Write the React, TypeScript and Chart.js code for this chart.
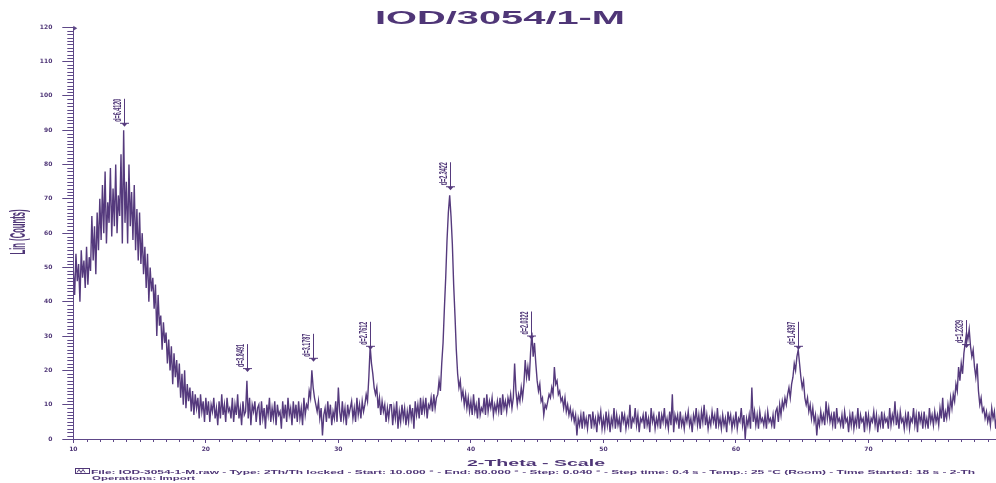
import { useEffect, useRef } from 'react';
import { Chart, registerables } from 'chart.js';

Chart.register(...registerables);

const TITLE = 'IOD/3054/1-M';
const X_TITLE = '2-Theta - Scale';
const Y_TITLE = 'Lin (Counts)';
const FOOTER_1 =
  'File: IOD-3054-1-M.raw - Type: 2Th/Th locked - Start: 10.000 ° - End: 80.000 ° - Step: 0.040 ° - Step time: 0.4 s - Temp.: 25 °C (Room) - Time Started: 18 s - 2-Th';
const FOOTER_2 = 'Operations: Import';

const START_ANGLE = 10;
const STEP = 0.1;

// counts from 10.0° to 80.0°, one value per 0.1°
const counts = [
  49, 42, 54, 46, 51, 40, 55, 47, 52, 44,
  56, 45, 53, 49, 65, 52, 62, 48, 66, 55,
  70, 58, 74, 60, 78, 57, 69, 63, 79, 59,
  73, 62, 80, 60, 71, 65, 83, 57, 90, 63,
  75, 57, 80, 62, 72, 58, 74, 55, 67, 52,
  66, 51, 60, 48, 56, 44, 54, 40, 50, 43,
  47, 38, 45, 30, 42, 33, 36, 26, 34, 28,
  31, 22, 29, 20, 27, 16, 25, 18, 23, 15,
  22, 12, 19, 10, 20, 9, 16, 11, 15, 8,
  14, 7, 13, 9, 12, 6, 13, 8, 11, 5,
  12, 7, 11, 5, 10, 8, 12, 6, 9, 4,
  11, 6, 13, 7, 10, 5, 12, 8, 9, 6,
  12, 5, 10, 7, 13, 6, 9, 4, 11, 7,
  8, 17, 6, 12, 4, 10, 8, 11, 5, 9,
  10, 4, 11, 6, 9, 3, 10, 7, 12, 5,
  9, 6, 11, 4, 10, 7, 8, 3, 11, 6,
  10, 5, 12, 7, 9, 4, 11, 6, 10, 5,
  11, 6, 9, 4, 12, 7, 10, 9, 14, 12,
  20, 15, 12, 10, 8, 11, 6, 9, 1, 7,
  9, 5, 11, 6, 10, 4, 8, 6, 11, 5,
  15, 8, 5, 11, 6, 9, 4, 10, 7, 9,
  11, 6, 9, 5, 12, 7, 10, 6, 11, 8,
  10, 13, 11, 18, 27, 22, 19, 15, 13, 15,
  9, 12, 7, 11, 8, 10, 5, 9, 6, 10,
  10, 4, 9, 6, 11, 3, 8, 5, 10, 6,
  9, 4, 8, 5, 10, 6, 9, 3, 11, 7,
  10, 6, 12, 7, 11, 8, 12, 6, 10, 9,
  12, 8, 13, 9, 12, 13, 17, 14, 22, 28,
  38, 47, 58, 66, 71, 65, 57, 45, 36, 26,
  19, 15, 17, 12, 14, 10, 13, 9, 12, 8,
  11, 7, 13, 8, 10, 6, 12, 7, 9, 8,
  12, 7, 13, 8, 11, 9, 12, 7, 10, 8,
  11, 8, 12, 7, 13, 9, 11, 8, 12, 10,
  13, 9, 12, 22, 14, 10, 13, 11, 15, 12,
  16, 23, 18, 21, 17, 25, 31, 24, 28, 22,
  17, 14, 16, 11, 12, 7, 10, 9, 11, 13,
  12, 15, 13, 21, 16, 17, 13, 14, 11, 12,
  9, 12, 8, 10, 7, 9, 6, 8, 5, 7,
  1, 6, 4, 7, 3, 8, 4, 6, 3, 7,
  7, 3, 8, 4, 6, 2, 7, 5, 8, 3,
  6, 3, 8, 4, 7, 2, 6, 4, 9, 3,
  7, 4, 6, 2, 8, 5, 7, 3, 6, 4,
  10, 3, 6, 5, 9, 4, 7, 2, 6, 5,
  7, 3, 8, 4, 6, 2, 9, 5, 7, 3,
  6, 4, 8, 3, 7, 5, 9, 4, 6, 3,
  8, 4, 13, 2, 7, 5, 7, 3, 8, 4,
  6, 3, 7, 5, 8, 4, 6, 2, 7, 5,
  9, 4, 7, 3, 8, 5, 10, 4, 7, 3,
  6, 4, 8, 5, 7, 3, 9, 4, 6, 3,
  7, 4, 6, 2, 8, 5, 7, 3, 6, 4,
  8, 3, 6, 5, 9, 4, 7, 0, 6, 4,
  7, 3, 15, 5, 8, 4, 7, 3, 8, 5,
  6, 4, 7, 3, 8, 5, 6, 4, 7, 3,
  8, 9, 5, 10, 7, 11, 9, 12, 10, 13,
  15, 12, 16, 18, 22, 20, 24, 26, 22, 18,
  15, 17, 12, 10, 12, 8, 10, 6, 9, 5,
  7, 1, 6, 4, 8, 5, 7, 4, 11, 6,
  9, 5, 7, 4, 8, 3, 9, 5, 6, 4,
  7, 3, 8, 5, 6, 2, 7, 4, 8, 3,
  6, 4, 9, 3, 7, 5, 6, 2, 8, 4,
  7, 3, 6, 5, 8, 4, 7, 2, 6, 4,
  8, 3, 7, 5, 6, 3, 9, 4, 7, 5,
  11, 4, 7, 3, 8, 5, 6, 3, 7, 4,
  8, 3, 6, 5, 9, 4, 7, 2, 8, 5,
  7, 3, 8, 4, 6, 3, 9, 5, 7, 4,
  8, 5, 7, 4, 9, 6, 12, 5, 8, 6,
  10, 7, 12, 9, 13, 11, 16, 14, 21, 17,
  22, 19, 25, 28, 31, 29, 32, 27, 24, 26,
  21, 18, 22, 14, 10, 12, 8, 9, 6, 8,
  5, 7, 4, 9, 6, 8, 3, 7, 5, 8,
  6,
];

const peakAngles = [13.8, 23.1, 28.05, 32.4, 38.4, 44.55, 64.7, 77.35];
const peakCounts = [91, 19.5, 22.5, 26, 72.5, 29, 26, 26.5];
const peakLabels = ['d=6.4120', 'd=3.8491', 'd=3.1787', 'd=2.7612', 'd=2.3422', 'd=2.0322', 'd=1.4397', 'd=1.2329'];

const xTicks = [10, 20, 30, 40, 50, 60, 70, 80];
const yTicks = [0, 10, 20, 30, 40, 50, 60, 70, 80, 90, 100, 110, 120];

const LINE = '#553a7d';
const AXIS = '#5e4888';
const TEXT = '#4f3677';

function drawStretched(
  ctx: CanvasRenderingContext2D,
  text: string,
  font: string,
  x: number,
  y: number,
  width: number,
  align: CanvasTextAlign,
  sy = 1,
  rotate = 0
) {
  ctx.save();
  ctx.font = font;
  const w = ctx.measureText(text).width;
  ctx.translate(x, y);
  if (rotate) ctx.rotate(rotate);
  ctx.scale(width / w, sy);
  ctx.textAlign = align;
  ctx.textBaseline = 'alphabetic';
  ctx.fillText(text, 0, 0);
  ctx.restore();
}

const decor = {
  id: 'decor',
  afterDraw(chart: any) {
    const { ctx, chartArea: a } = chart;
    const xs = chart.scales.x;
    const ys = chart.scales.y;
    ctx.save();
    ctx.strokeStyle = AXIS;
    ctx.fillStyle = TEXT;
    ctx.lineWidth = 1;

    // minor ticks
    ctx.beginPath();
    for (let v = 11; v < 80; v++) {
      if (v % 10 === 0) continue;
      const px = Math.round(xs.getPixelForValue(v)) + 0.5;
      ctx.moveTo(px, a.bottom);
      ctx.lineTo(px, a.bottom + 3);
    }
    for (let v = 1; v < 120; v++) {
      if (v % 10 === 0) continue;
      const py = Math.round(ys.getPixelForValue(v)) + 0.5;
      ctx.moveTo(a.left - 6, py);
      ctx.lineTo(a.left, py);
    }
    ctx.stroke();

    // arrow at the top of the y axis
    ctx.fillStyle = AXIS;
    ctx.beginPath();
    ctx.moveTo(a.left, a.top - 1.5);
    ctx.lineTo(a.left + 4, a.top + 1);
    ctx.lineTo(a.left, a.top + 3.5);
    ctx.closePath();
    ctx.fill();

    // titles
    ctx.fillStyle = TEXT;
    drawStretched(ctx, TITLE, 'bold 19px "Liberation Sans", Arial, sans-serif', 500, 24, 250, 'center');
    drawStretched(ctx, X_TITLE, 'bold 9px "Liberation Sans", Arial, sans-serif', 536, 465.5, 138, 'center');
    drawStretched(ctx, Y_TITLE, 'bold 8px "Liberation Sans", Arial, sans-serif', 25, 232, 45, 'center', 2.8, -Math.PI / 2);

    // footer
    drawStretched(ctx, FOOTER_1, 'bold 5px "Liberation Sans", Arial, sans-serif', 91, 473.5, 884, 'left');
    drawStretched(ctx, FOOTER_2, 'bold 5px "Liberation Sans", Arial, sans-serif', 92, 479.5, 103, 'left');
    ctx.strokeStyle = TEXT;
    ctx.strokeRect(75.5, 468.5, 14, 5);
    ctx.beginPath();
    ctx.moveTo(77, 472.5);
    ctx.lineTo(79, 469.5);
    ctx.lineTo(81, 472.5);
    ctx.lineTo(83, 469.5);
    ctx.lineTo(85, 472.5);
    ctx.stroke();

    // peak markers
    for (let i = 0; i < peakAngles.length; i++) {
      const px = Math.round(xs.getPixelForValue(peakAngles[i])) + 0.5;
      const py = ys.getPixelForValue(peakCounts[i]);
      ctx.strokeStyle = LINE;
      ctx.fillStyle = LINE;
      ctx.beginPath();
      ctx.moveTo(px, py - 28);
      ctx.lineTo(px, py - 3);
      ctx.moveTo(px - 4.5, py - 3.5);
      ctx.lineTo(px + 4.5, py - 3.5);
      ctx.stroke();
      ctx.beginPath();
      ctx.moveTo(px - 3, py - 3.5);
      ctx.lineTo(px + 3, py - 3.5);
      ctx.lineTo(px, py);
      ctx.closePath();
      ctx.fill();
      ctx.fillStyle = TEXT;
      drawStretched(ctx, peakLabels[i], 'bold 5px "Liberation Sans", Arial, sans-serif', px - 4, py - 5, 23, 'left', 2.2, -Math.PI / 2);
    }
    ctx.restore();
  },
};

export default function App() {
  const ref = useRef<HTMLCanvasElement>(null);

  useEffect(() => {
    const canvas = ref.current;
    if (!canvas) return;
    const tickFont = { family: '"DejaVu Sans", sans-serif', size: 6, weight: 'bold' as const };
    const chart = new Chart(canvas, {
      type: 'line',
      data: {
        datasets: [
          {
            data: counts.map((c, i) => ({ x: START_ANGLE + i * STEP, y: c })),
            borderColor: LINE,
            borderWidth: 1.4,
            pointRadius: 0,
            fill: false,
            tension: 0,
          },
        ],
      },
      options: {
        responsive: false,
        animation: false,
        layout: { padding: { top: 27.3, right: 11, bottom: 0, left: 0 } },
        plugins: {
          legend: { display: false },
          tooltip: { enabled: false },
          title: { display: false },
        },
        scales: {
          x: {
            type: 'linear',
            min: 10,
            max: 80,
            afterBuildTicks: (s: any) => {
              s.ticks = xTicks.map((v) => ({ value: v }));
            },
            afterFit: (s: any) => {
              s.height = 44;
            },
            grid: { drawOnChartArea: false, drawTicks: true, tickLength: 4, color: AXIS },
            border: { display: true, color: AXIS, width: 1 },
            ticks: { font: tickFont, color: TEXT, padding: 3, maxRotation: 0, autoSkip: false },
          },
          y: {
            type: 'linear',
            min: 0,
            max: 120,
            afterBuildTicks: (s: any) => {
              s.ticks = yTicks.map((v) => ({ value: v }));
            },
            afterFit: (s: any) => {
              s.width = 73.3;
            },
            grid: { drawOnChartArea: false, drawTicks: true, tickLength: 11, color: AXIS },
            border: { display: true, color: AXIS, width: 1 },
            ticks: { font: tickFont, color: TEXT, padding: 10, autoSkip: false },
          },
        },
      },
      plugins: [decor],
    });
    return () => chart.destroy();
  }, []);

  return (
    <div
      style={{
        position: 'fixed',
        left: 0,
        top: 0,
        width: 996,
        height: 483,
        overflow: 'hidden',
        background: '#ffffff',
      }}
    >
      <canvas ref={ref} width={1012} height={483} style={{ display: 'block' }} />
    </div>
  );
}
